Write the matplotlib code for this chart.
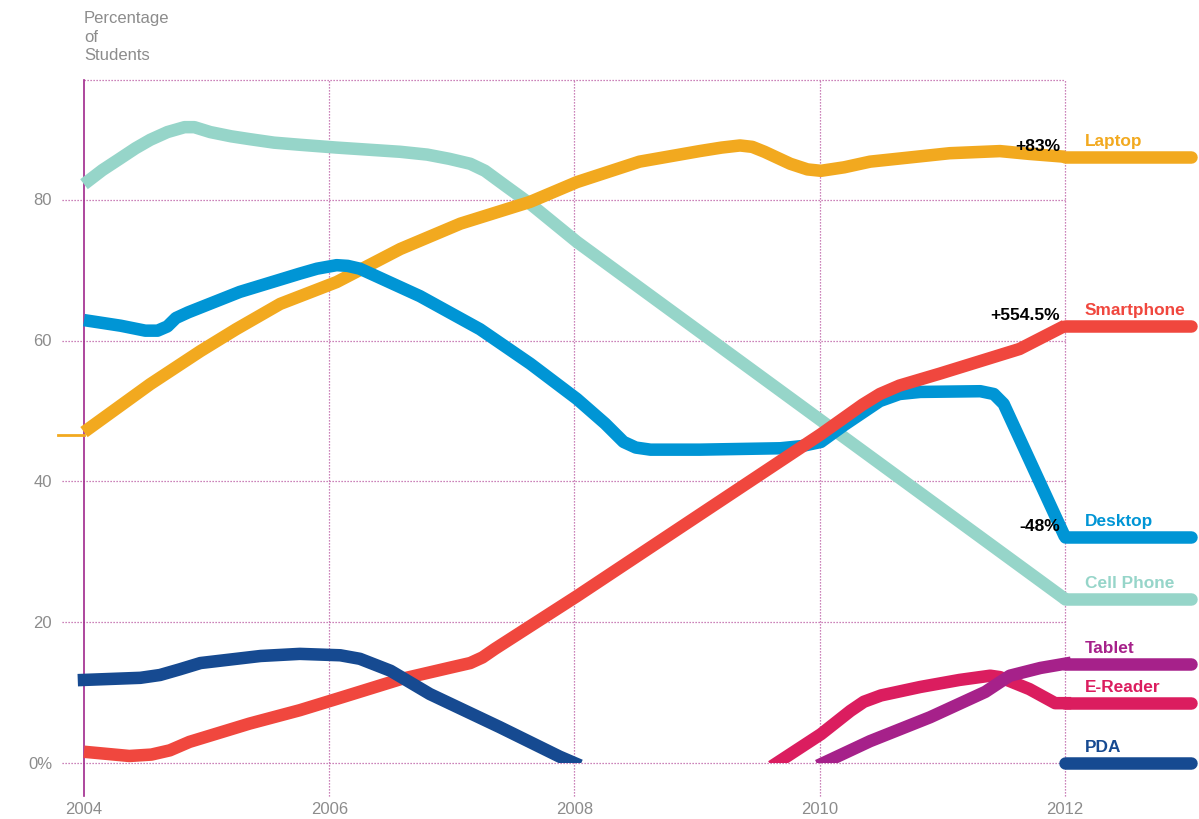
#!/usr/bin/env python3
"""Device ownership among students, 2004-2012."""

import matplotlib
matplotlib.use("Agg")
import matplotlib.pyplot as plt
from matplotlib.patches import Rectangle

plt.rcParams['font.family'] = ['Liberation Sans', 'DejaVu Sans']

# data (year, percentage of students)
cell_years = [2004.0, 2004.15, 2004.29, 2004.42, 2004.54, 2004.68, 2004.82, 2004.9,
              2005.03, 2005.2, 2005.35, 2005.55, 2005.76, 2006.06, 2006.58, 2006.8,
              2006.98, 2007.15, 2007.27, 2007.45, 2007.64, 2008.02, 2012.0]
cell_vals = [82.2, 84.2, 85.8, 87.3, 88.5, 89.6, 90.3, 90.3,
             89.6, 89.0, 88.6, 88.1, 87.8, 87.4, 86.8, 86.4,
             85.8, 85.1, 84.1, 81.8, 79.4, 74.0, 23.3]

laptop_years = [2004.0, 2004.54, 2004.95, 2005.24, 2005.60, 2006.06, 2006.58, 2007.07,
                2007.64, 2008.02, 2008.53, 2009.02, 2009.2, 2009.35, 2009.45, 2009.55,
                2009.76, 2009.9, 2010.01, 2010.2, 2010.41, 2011.06, 2011.47, 2011.71,
                2012.0]
laptop_vals = [47.0, 53.8, 58.5, 61.6, 65.2, 68.3, 73.0, 76.6,
               79.7, 82.5, 85.4, 86.9, 87.4, 87.7, 87.5, 86.8,
               85.1, 84.3, 84.1, 84.6, 85.4, 86.6, 86.9, 86.5,
               86.1]

desktop_years = [2004.0, 2004.3, 2004.5, 2004.6, 2004.68, 2004.75, 2004.85, 2005.27,
                 2005.76, 2005.9, 2006.06, 2006.15, 2006.25, 2006.74, 2007.23, 2007.64,
                 2008.02, 2008.25, 2008.4, 2008.5, 2008.62, 2009.02, 2009.68, 2009.85,
                 2010.01, 2010.2, 2010.49, 2010.65, 2010.82, 2011.31, 2011.42, 2011.5,
                 2012.0]
desktop_vals = [62.9, 62.1, 61.4, 61.4, 62.0, 63.2, 64.0, 66.9,
                69.5, 70.2, 70.7, 70.6, 70.2, 66.3, 61.6, 56.7,
                51.7, 48.2, 45.6, 44.8, 44.5, 44.5, 44.7, 45.0,
                45.6, 48.0, 51.4, 52.4, 52.7, 52.8, 52.4, 51.0,
                32.1]

smart_years = [2004.0, 2004.37, 2004.55, 2004.70, 2004.86, 2005.35, 2005.76, 2006.06,
               2006.58, 2007.0, 2007.15, 2007.25, 2007.35, 2008.02, 2010.01, 2010.35,
               2010.49, 2010.65, 2010.98, 2011.63, 2012.0]
smart_vals = [1.6, 1.0, 1.2, 1.8, 3.0, 5.6, 7.5, 9.1,
              11.9, 13.6, 14.2, 15.0, 16.2, 23.7, 46.7, 50.9,
              52.4, 53.6, 55.3, 58.8, 62.1]

pda_years = [2004.0, 2004.46, 2004.62, 2004.78, 2004.95, 2005.44, 2005.76, 2006.09,
             2006.25, 2006.50, 2006.82, 2007.39, 2007.88, 2008.0]
pda_vals = [11.8, 12.1, 12.5, 13.3, 14.2, 15.2, 15.5, 15.3,
            14.8, 13.1, 9.8, 5.1, 0.9, 0.0]

tablet_years = [2010.03, 2010.41, 2010.90, 2011.35, 2011.55, 2011.80, 2012.0]
tablet_vals = [0.0, 3.1, 6.5, 10.1, 12.4, 13.5, 14.1]

ereader_years = [2009.65, 2010.01, 2010.25, 2010.36, 2010.5, 2010.82, 2011.14, 2011.39,
                 2011.47, 2011.71, 2011.92, 2012.0]
ereader_vals = [0.0, 4.1, 7.4, 8.7, 9.6, 10.8, 11.8, 12.4,
                12.2, 10.5, 8.5, 8.5]

year_ticks = [2004, 2006, 2008, 2010, 2012]
pct_ticks = [0, 20, 40, 60, 80]
pct_labels = ['0%', '20', '40', '60', '80']

changes = {'Laptop': '+83%', 'Smartphone': '+554.5%', 'Desktop': '-48%'}

GRID = '#bb5aa3'
GRAY = '#8c8c8c'
LW = 9

series = [
    ('Cell Phone', cell_years, cell_vals, '#96d5c9', False),
    ('Laptop', laptop_years, laptop_vals, '#f2a91f', False),
    ('Desktop', desktop_years, desktop_vals, '#0095d5', False),
    ('Smartphone', smart_years, smart_vals, '#f0473e', False),
    ('PDA', pda_years, pda_vals, '#164a91', True),
    ('E-Reader', ereader_years, ereader_vals, '#db1d5f', True),
    ('Tablet', tablet_years, tablet_vals, '#a6218a', True),
]


def main():
    fig = plt.figure(figsize=(11.99, 8.2), dpi=100)
    ax = fig.add_axes([0, 0, 1, 1])
    ax.set_xlim(2003.315, 2013.093)
    ax.set_ylim(-7.95, 108.5)
    ax.axis('off')

    top = 97.0
    bottom = -4.7

    # dotted grid
    for v in pct_ticks:
        ax.plot([2003.82, 2012], [v, v], color=GRID, lw=0.9, ls=(0, (1, 1.4)), zorder=1)
    ax.plot([2004, 2012], [top, top], color=GRID, lw=0.9, ls=(0, (1, 1.4)), zorder=1)
    for yr in year_ticks[1:]:
        ax.plot([yr, yr], [bottom, top], color=GRID, lw=0.9, ls=(0, (1, 1.4)), zorder=1)
    ax.plot([2004, 2004], [bottom, top], color='#a0288c', lw=1.2, zorder=1)

    for v, lab in zip(pct_ticks, pct_labels):
        ax.text(2003.74, v, lab, ha='right', va='center', fontsize=12, color=GRAY)
    for yr in year_ticks:
        ax.text(yr, -6.5, str(yr), ha='center', va='center', fontsize=12, color=GRAY)

    ax.text(2004, 106.9, 'Percentage\nof\nStudents', ha='left', va='top',
            fontsize=12, color=GRAY, linespacing=1.3)

    # small stub on the left of the laptop line
    ax.plot([2003.79, 2004], [laptop_vals[0] - 0.4] * 2, color='#f2a91f', lw=2, zorder=2)

    clip = Rectangle((2003, 0), 11, 120, transform=ax.transData)
    for name, xs, ys, color, clipped in series:
        ln, = ax.plot(xs, ys, color=color, lw=LW, solid_joinstyle='round',
                      solid_capstyle='projecting' if clipped else 'butt', zorder=3)
        if clipped:
            ln.set_clip_path(clip)
        # flat extension past 2012
        ax.plot([2012, 2013.03], [ys[-1], ys[-1]], color=color, lw=LW,
                solid_capstyle='round', zorder=3)
        ax.annotate(name, (2012.163, ys[-1]), xytext=(0, 12), textcoords='offset points',
                    ha='left', va='center', fontsize=12.4, fontweight='bold', color=color)
        if name in changes:
            ax.annotate(changes[name], (2011.96, ys[-1]), xytext=(0, 8),
                        textcoords='offset points', ha='right', va='center',
                        fontsize=12.6, fontweight='bold', color='black', zorder=5)

    fig.savefig('out.png', dpi=100)


if __name__ == "__main__":
    main()
